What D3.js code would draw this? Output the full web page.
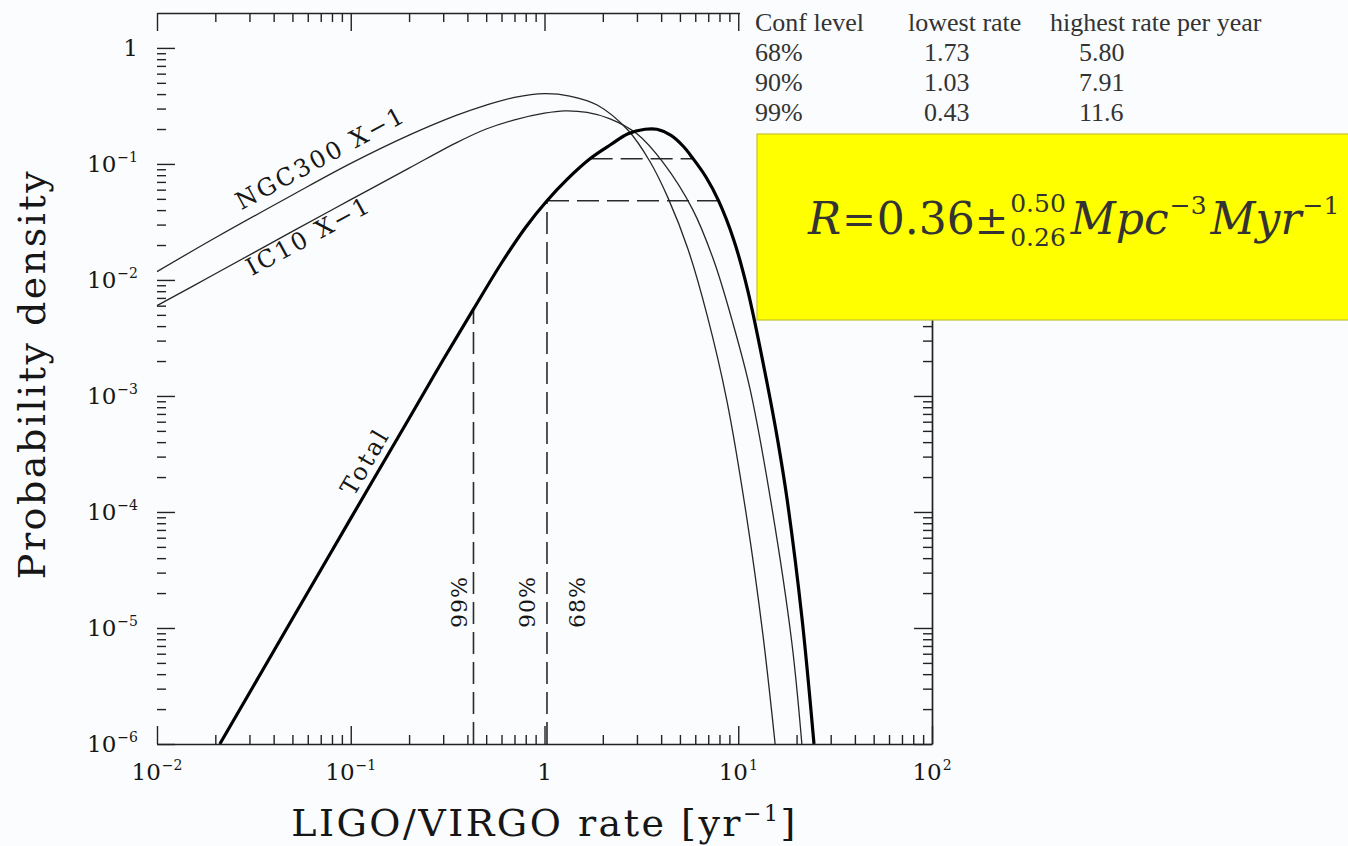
<!DOCTYPE html>
<html>
<head>
<meta charset="utf-8">
<script src="https://cdn.jsdelivr.net/npm/d3@7"></script>
<style>
  html, body { margin: 0; padding: 0; background: #fafcfd; }
  svg { display: block; }
</style>
</head>
<body>
<svg id="chart" width="1348" height="846"></svg>
<script>
// ---- Posterior densities of the LIGO/VIRGO detection rate ----
const ngcRate    = [0.01, 0.02, 0.05, 0.1, 0.2, 0.35, 0.5, 0.7, 1.0, 1.35, 1.87, 2.7, 3.5, 4.34, 5.5, 6.9, 8.75, 11.1, 13.4, 15.5];
const ngcDensity = [0.0118, 0.0231, 0.0540, 0.101, 0.177, 0.262, 0.322, 0.375, 0.404, 0.385, 0.322, 0.195, 0.105, 0.051, 0.0185, 0.0050, 0.00090, 0.000086, 0.0000088, 0.000001];

const icRate    = [0.01, 0.02, 0.05, 0.1, 0.2, 0.35, 0.5, 0.7, 1.0, 1.27, 1.66, 2.18, 3.0, 4.09, 5.84, 7.5, 9.29, 11.5, 14.9, 18.9, 21.3];
const icDensity = [0.0060, 0.0113, 0.0262, 0.0492, 0.092, 0.152, 0.200, 0.240, 0.274, 0.287, 0.278, 0.245, 0.182, 0.103, 0.040, 0.0145, 0.0045, 0.00115, 0.00011, 0.0000075, 0.000001];

const totalRate    = [0.0211, 0.05, 0.1, 0.2, 0.3, 0.43, 0.6, 0.8, 1.03, 1.3, 1.73, 2.2, 2.7, 3.3, 3.8, 4.5, 5.2, 5.8, 6.8, 7.91, 9.5, 11.2, 14.1, 16.0, 17.9, 21.3, 24.6];
const totalDensity = [0.000001, 0.000012, 0.000088, 0.00064, 0.00205, 0.0056, 0.0140, 0.0285, 0.0482, 0.073, 0.112, 0.147, 0.182, 0.199, 0.199, 0.176, 0.142, 0.113, 0.0775, 0.0482, 0.0219, 0.0081, 0.00128, 0.00041, 0.000126, 0.0000124, 0.000001];

// ---- Confidence intervals (rate per year) ----
const confLevels    = ["68%", "90%", "99%"];
const lowestRates   = [1.73, 1.03, 0.43];
const highestRates  = [5.80, 7.91, 11.6];
const densityLevels = [0.111, 0.0482, 0.00544];
const showVertical   = [false, true, true];
const showHorizontal = [true, true, false];
const labelNudge     = [0, -6, 0];

// ---- Axis ticks ----
const xTickExponents = [-2, -1, 0, 1, 2];
const yTickExponents = [0, -1, -2, -3, -4, -5, -6];
const tableHeaders = ["Conf level", "lowest rate", "highest rate per year"];

// ---- Rate estimate shown in the highlighted box ----
const rateCentral = "0.36", rateUpper = "0.50", rateLower = "0.26";

const svg = d3.select("#chart");
const serif = "DejaVu Serif";
const ink = "#161616";

const plot = { left: 157, right: 932, top: 13, bottom: 744 };
const x = d3.scaleLog().domain([0.01, 100]).range([plot.left, plot.right]);
const y = d3.scaleLog().domain([1e-6, 2]).range([plot.bottom, plot.top]);

function minorTicks(lo, hi) {
  const t = [];
  for (let e = lo; e < hi; e++)
    for (let m = 2; m <= 9; m++) t.push(+(m * Math.pow(10, e)).toPrecision(3));
  return t;
}
const xMajor = xTickExponents.map(e => Math.pow(10, e));
const yMajor = yTickExponents.map(e => Math.pow(10, e));
const xMinor = minorTicks(-2, 2);
const yMinor = minorTicks(-6, 0);

// ---- Confidence-interval guide lines ----
const guides = svg.append("g")
  .attr("fill", "none").attr("stroke", "#2a2a2a")
  .attr("stroke-width", 1.6).attr("stroke-dasharray", "22,8");
confLevels.forEach((c, i) => {
  if (showVertical[i]) {
    guides.append("line")
      .attr("x1", x(lowestRates[i])).attr("x2", x(lowestRates[i]))
      .attr("y1", y(1e-6)).attr("y2", y(densityLevels[i]));
  }
  if (showHorizontal[i]) {
    guides.append("line")
      .attr("x1", x(lowestRates[i])).attr("x2", x(highestRates[i]))
      .attr("y1", y(densityLevels[i])).attr("y2", y(densityLevels[i]));
  }
});

// ---- Density curves ----
const line = d3.line().x(d => x(d[0])).y(d => y(d[1])).curve(d3.curveCatmullRom.alpha(0.5));
const curves = [
  { rates: ngcRate, dens: ngcDensity, width: 1.3, color: "#262626" },
  { rates: icRate, dens: icDensity, width: 1.3, color: "#262626" },
  { rates: totalRate, dens: totalDensity, width: 3.2, color: "#000" }
];
svg.append("g").selectAll("path").data(curves).join("path")
  .attr("d", c => line(d3.zip(c.rates, c.dens)))
  .attr("fill", "none")
  .attr("stroke", c => c.color)
  .attr("stroke-width", c => c.width)
  .attr("stroke-linejoin", "round");

// position on a curve (log-log interpolation) used to place the curve labels
function curvePoint(rates, dens, r) {
  const lr = Math.log10(r);
  for (let i = 0; i < rates.length - 1; i++) {
    const a = Math.log10(rates[i]), b = Math.log10(rates[i + 1]);
    if (lr >= a && lr <= b) {
      const t = (lr - a) / (b - a);
      const v = Math.log10(dens[i]) * (1 - t) + Math.log10(dens[i + 1]) * t;
      return [x(r), y(Math.pow(10, v))];
    }
  }
  return [x(r), y(dens[0])];
}
function curveLabel(text, rates, dens, r, offset) {
  const p = curvePoint(rates, dens, r);
  const p0 = curvePoint(rates, dens, r / 1.15);
  const p1 = curvePoint(rates, dens, r * 1.15);
  const ang = Math.atan2(p1[1] - p0[1], p1[0] - p0[0]) * 180 / Math.PI;
  svg.append("text")
    .attr("transform", `translate(${p[0]},${p[1]}) rotate(${ang})`)
    .attr("y", offset)
    .attr("text-anchor", "middle")
    .attr("font-family", serif).attr("font-size", 24)
    .attr("letter-spacing", 2.5).attr("fill", ink)
    .text(text);
}
curveLabel("NGC300 X\u22121", ngcRate, ngcDensity, 0.078, -11);
curveLabel("IC10 X\u22121", icRate, icDensity, 0.0567, 20);
curveLabel("Total", totalRate, totalDensity, 0.14, -8);

// confidence labels beside the guide lines
confLevels.forEach((c, i) => {
  svg.append("text")
    .attr("transform", `translate(${x(lowestRates[i]) - 6 + labelNudge[i]},602) rotate(-90)`)
    .attr("text-anchor", "middle")
    .attr("font-family", serif).attr("font-size", 22)
    .attr("letter-spacing", 1).attr("fill", ink)
    .text(c);
});

// ---- Axes (ticks drawn inward on all four sides) ----
function drawAxis(gen, transform, majorVals, minorVals, keepDomain) {
  [[majorVals, 18], [minorVals, 9]].forEach(([vals, size], k) => {
    const g = svg.append("g").attr("transform", transform)
      .call(gen.tickValues(vals).tickSizeInner(-size).tickSizeOuter(0).tickFormat(""));
    if (!keepDomain || k === 1) g.select(".domain").remove();
    g.select(".domain").attr("stroke", "#222").attr("stroke-width", 1.7);
    g.selectAll(".tick line").attr("stroke", "#222").attr("stroke-width", 1.4);
  });
}
drawAxis(d3.axisBottom(x), `translate(0,${plot.bottom})`, xMajor, xMinor, true);
drawAxis(d3.axisTop(x), `translate(0,${plot.top})`, xMajor, xMinor, true);
drawAxis(d3.axisLeft(y), `translate(${plot.left},0)`, yMajor, yMinor, false);
drawAxis(d3.axisRight(y), `translate(${plot.right},0)`, yMajor, yMinor, true);

// tick labels written as powers of ten
function powerLabel(sel, e, supSize, supDy) {
  if (e === 0) { sel.text("1"); return; }
  sel.append("tspan").text("10");
  sel.append("tspan").attr("dy", supDy).attr("dx", 1).attr("font-size", supSize)
    .text((e < 0 ? "\u2212" : "") + Math.abs(e));
}
xTickExponents.forEach(e => {
  const t = svg.append("text")
    .attr("x", x(Math.pow(10, e))).attr("y", 780)
    .attr("text-anchor", "middle")
    .attr("font-family", serif).attr("font-size", 23).attr("fill", ink);
  powerLabel(t, e, 14, -10);
});
yTickExponents.forEach(e => {
  const t = svg.append("text")
    .attr("x", 138).attr("y", y(Math.pow(10, e)) + 8)
    .attr("text-anchor", "end")
    .attr("font-family", serif).attr("font-size", 23).attr("fill", ink);
  powerLabel(t, e, 14, -10);
});

// axis titles
const xt = svg.append("text")
  .attr("x", (plot.left + plot.right) / 2).attr("y", 836)
  .attr("text-anchor", "middle")
  .attr("font-family", serif).attr("font-size", 38)
  .attr("letter-spacing", 2.5).attr("fill", ink);
xt.append("tspan").text("LIGO/VIRGO rate [yr");
xt.append("tspan").attr("dy", -15).attr("font-size", 22).text("\u22121");
xt.append("tspan").attr("dy", 15).text("]");

svg.append("text")
  .attr("transform", "translate(45,374) rotate(-90)")
  .attr("text-anchor", "middle")
  .attr("font-family", serif).attr("font-size", 38)
  .attr("letter-spacing", 2.5).attr("fill", ink)
  .text("Probability density");

// ---- Confidence table ----
svg.append("rect")
  .attr("x", 740).attr("y", 0).attr("width", 608).attr("height", 134)
  .attr("fill", "#fafcfd");
const tableFont = "Liberation Serif";
const headerX = [755, 908, 1050];
const cellX = [755, 924, 1079];
tableHeaders.forEach((h, j) => {
  svg.append("text").attr("x", headerX[j]).attr("y", 31)
    .attr("font-family", tableFont).attr("font-size", 26).attr("fill", "#333")
    .text(h);
});
confLevels.forEach((c, i) => {
  const row = [c, lowestRates[i].toFixed(2), highestRates[i].toPrecision(3)];
  row.forEach((v, j) => {
    svg.append("text").attr("x", cellX[j]).attr("y", 61 + i * 30)
      .attr("font-family", tableFont).attr("font-size", 26).attr("fill", "#333")
      .text(v);
  });
});

// ---- Highlighted rate estimate ----
svg.append("rect")
  .attr("x", 757).attr("y", 134).attr("width", 600).attr("height", 186)
  .attr("fill", "#ffff00").attr("stroke", "#c4c430").attr("stroke-width", 1.2);

const fBase = 234;
const formula = svg.append("g").attr("fill", "#333").attr("font-family", serif);
let cx = 808;
function piece(txt, size, italic, dy) {
  const t = formula.append("text").attr("x", cx).attr("y", fBase + dy)
    .attr("font-size", size).attr("font-style", italic ? "italic" : "normal").text(txt);
  return t.node().getComputedTextLength();
}
cx += piece("R", 44, true, 0) + 1;
cx += piece("=", 40, false, -1) + 1;
cx += piece(rateCentral, 44, false, 0);
cx += piece("\u00b1", 40, false, 0) + 2;
const wUp = piece(rateUpper, 25, false, -22);
const wLo = piece(rateLower, 25, false, 12);
cx += Math.max(wUp, wLo) + 5;
cx += piece("Mpc", 44, true, 0) + 1;
cx += piece("\u22123", 25, false, -20) + 4;
cx += piece("Myr", 44, true, 0) + 1;
piece("\u22121", 25, false, -20);
</script>
</body>
</html>
